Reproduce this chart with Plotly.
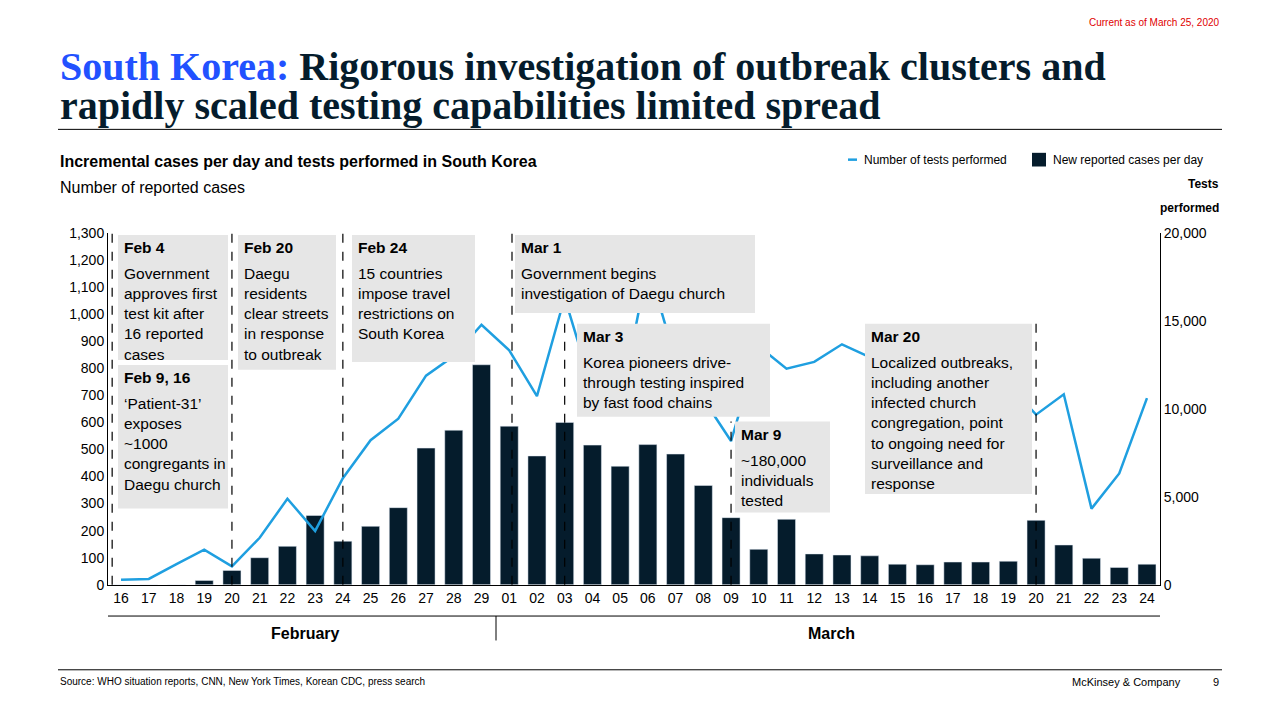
import plotly.graph_objects as go

days = ['16', '17', '18', '19', '20', '21', '22', '23', '24', '25', '26', '27', '28', '29',
        '01', '02', '03', '04', '05', '06', '07', '08', '09', '10', '11', '12', '13', '14',
        '15', '16', '17', '18', '19', '20', '21', '22', '23', '24']
new_cases = [0, 0, 0, 16, 53, 100, 142, 256, 161, 216, 285, 505, 571, 813,
             586, 476, 600, 516, 438, 518, 483, 367, 248, 131, 242, 114, 110, 107,
             76, 74, 84, 84, 87, 238, 147, 98, 64, 76]
tests = [280, 330, 1170, 2000, 1050, 2670, 4890, 3060, 6060, 8220, 9440, 11890, 13000, 14780,
         13330, 10720, 16330, 11110, 10200, 18170, 12780, 10560, 8170, 13560, 12280, 12670, 13670, 12940,
         7220, 6440, 12220, 8890, 11390, 9670, 10830, 4330, 6330, 10610]
idx = list(range(len(days)))

# page body has an 8px margin, so the figure is drawn 16px smaller
M = 8
W, H = 1280 - 2 * M, 720 - 2 * M
NAVY = '#051C2C'
BLUE = '#1F9FE0'
FONT = 'Liberation Sans'


def px(x):
    return (x - M) / W


def py(y):
    return 1 - (y - M) / H


fig = go.Figure()
fig.add_trace(go.Bar(x=idx, y=new_cases, marker_color=NAVY, width=0.65, yaxis='y', showlegend=False))
fig.add_trace(go.Scatter(x=idx, y=tests, mode='lines', line=dict(color=BLUE, width=2.5),
                         yaxis='y2', showlegend=False))

shapes = []
annots = []

# dashed event lines (x index, top pixel)
events = [(-0.32, 230), (4, 230), (8, 230), (14.1, 230), (16, 323), (22, 423), (33, 323)]
for ex, top in events:
    shapes.append(dict(type='line', xref='x', yref='paper', x0=ex, x1=ex, y0=py(590), y1=py(top),
                       line=dict(color='black', width=1.2, dash='dash'), layer='above'))

boxes = [
    (118, 228, 232, 360, 'Feb 4', 'Government<br>approves first<br>test kit after<br>16 reported<br>cases'),
    (118, 228, 365, 512, 'Feb 9, 16', '‘Patient-31’<br>exposes<br>~1000<br>congregants in<br>Daegu church'),
    (238, 336, 232, 370, 'Feb 20', 'Daegu<br>residents<br>clear streets<br>in response<br>to outbreak'),
    (352, 475, 232, 362, 'Feb 24', '15 countries<br>impose travel<br>restrictions on<br>South Korea'),
    (515, 755, 232, 312, 'Mar 1', 'Government begins<br>investigation of Daegu church'),
    (577, 770, 323, 418, 'Mar 3', 'Korea pioneers drive-<br>through testing inspired<br>by fast food chains'),
    (735, 830, 423, 516, 'Mar 9', '~180,000<br>individuals<br>tested'),
    (865, 1032, 323, 497, 'Mar 20', 'Localized outbreaks,<br>including another<br>infected church<br>congregation, point<br>to ongoing need for<br>surveillance and<br>response'),
]
for x0, x1, y0, y1, head, body in boxes:
    shapes.append(dict(type='rect', xref='paper', yref='paper', x0=px(x0), x1=px(x1), y0=py(y1), y1=py(y0),
                       fillcolor='#E6E6E6', line=dict(width=0), layer='above'))
    annots.append(dict(xref='paper', yref='paper', x=px(x0 + 4), y=py(y0 + 2), xanchor='left', yanchor='top',
                       text='<b>' + head + '</b>', showarrow=False, align='left',
                       font=dict(family=FONT, size=15.5, color='black')))
    annots.append(dict(xref='paper', yref='paper', x=px(x0 + 4), y=py(y0 + 29), xanchor='left', yanchor='top',
                       text=body, showarrow=False, align='left',
                       font=dict(family=FONT, size=15.5, color='black')))


def txt(x, y, text, size, anchor='left', color='black', family=FONT):
    annots.append(dict(xref='paper', yref='paper', x=px(x), y=py(y), xanchor=anchor, yanchor='middle',
                       showarrow=False, text=text, font=dict(family=family, size=size, color=color)))


txt(1222, 15, 'Current as of March 25, 2020', 10, 'right', '#E00000')
txt(58, 60, '<b><span style="color:#2251FF">South Korea:</span> Rigorous investigation of outbreak clusters and</b>',
    40, color=NAVY, family='Liberation Serif')
txt(58, 100, '<b>rapidly scaled testing capabilities limited spread</b>', 40, color=NAVY, family='Liberation Serif')
txt(58, 157, '<b>Incremental cases per day and tests performed in South Korea</b>', 16)
txt(58, 183, 'Number of reported cases', 16)
txt(862, 155, 'Number of tests performed', 12)
txt(1051, 155, 'New reported cases per day', 12)
txt(1221, 180, '<b>Tests</b>', 12, 'right')
txt(1221, 204, '<b>performed</b>', 12, 'right')
txt(305, 640, '<b>February</b>', 16, 'center')
txt(831, 640, '<b>March</b>', 16, 'center')
txt(58, 689, 'Source: WHO situation reports, CNN, New York Times, Korean CDC, press search', 10)
txt(1183, 689, 'McKinsey & Company', 11, 'right')
txt(1221, 689, '9', 11, 'right')

line = dict(color='black', width=1)
shapes += [
    dict(type='line', xref='paper', yref='paper', x0=px(58), x1=px(1222), y0=py(124), y1=py(124), line=line),
    dict(type='line', xref='paper', yref='paper', x0=px(58), x1=px(1222), y0=py(677), y1=py(677), line=line),
    dict(type='line', xref='paper', yref='paper', x0=px(108), x1=px(1160), y0=py(622), y1=py(622), line=line),
    dict(type='line', xref='paper', yref='paper', x0=px(496), x1=px(496), y0=py(622), y1=py(647), line=line),
    dict(type='line', xref='paper', yref='paper', x0=px(848), x1=px(857), y0=py(155), y1=py(155),
         line=dict(color=BLUE, width=2.5)),
    dict(type='rect', xref='paper', yref='paper', x0=px(1032), x1=px(1046), y0=py(162), y1=py(148),
         fillcolor=NAVY, line=dict(width=0)),
]

fig.update_layout(
    width=W, height=H, margin=dict(l=0, r=0, t=0, b=0),
    paper_bgcolor='white', plot_bgcolor='white', bargap=0.3,
    xaxis=dict(domain=[px(108), px(1160)], range=[-0.47, 37.47], tickmode='array', tickvals=idx, ticktext=days,
               showgrid=False, zeroline=False, showline=True, linecolor='black', ticks='',
               tickfont=dict(family=FONT, size=14, color='black')),
    yaxis=dict(domain=[py(590), py(230)], range=[0, 1300], dtick=100, tickformat=',', showgrid=False,
               zeroline=False, showline=True, linecolor='black', ticks='',
               tickfont=dict(family=FONT, size=14, color='black')),
    yaxis2=dict(overlaying='y', side='right', range=[0, 20000], dtick=5000, tickformat=',', showgrid=False,
                zeroline=False, showline=True, linecolor='black', ticks='',
                tickfont=dict(family=FONT, size=14, color='black')),
    shapes=shapes, annotations=annots,
)

fig.write_html('out.html')
